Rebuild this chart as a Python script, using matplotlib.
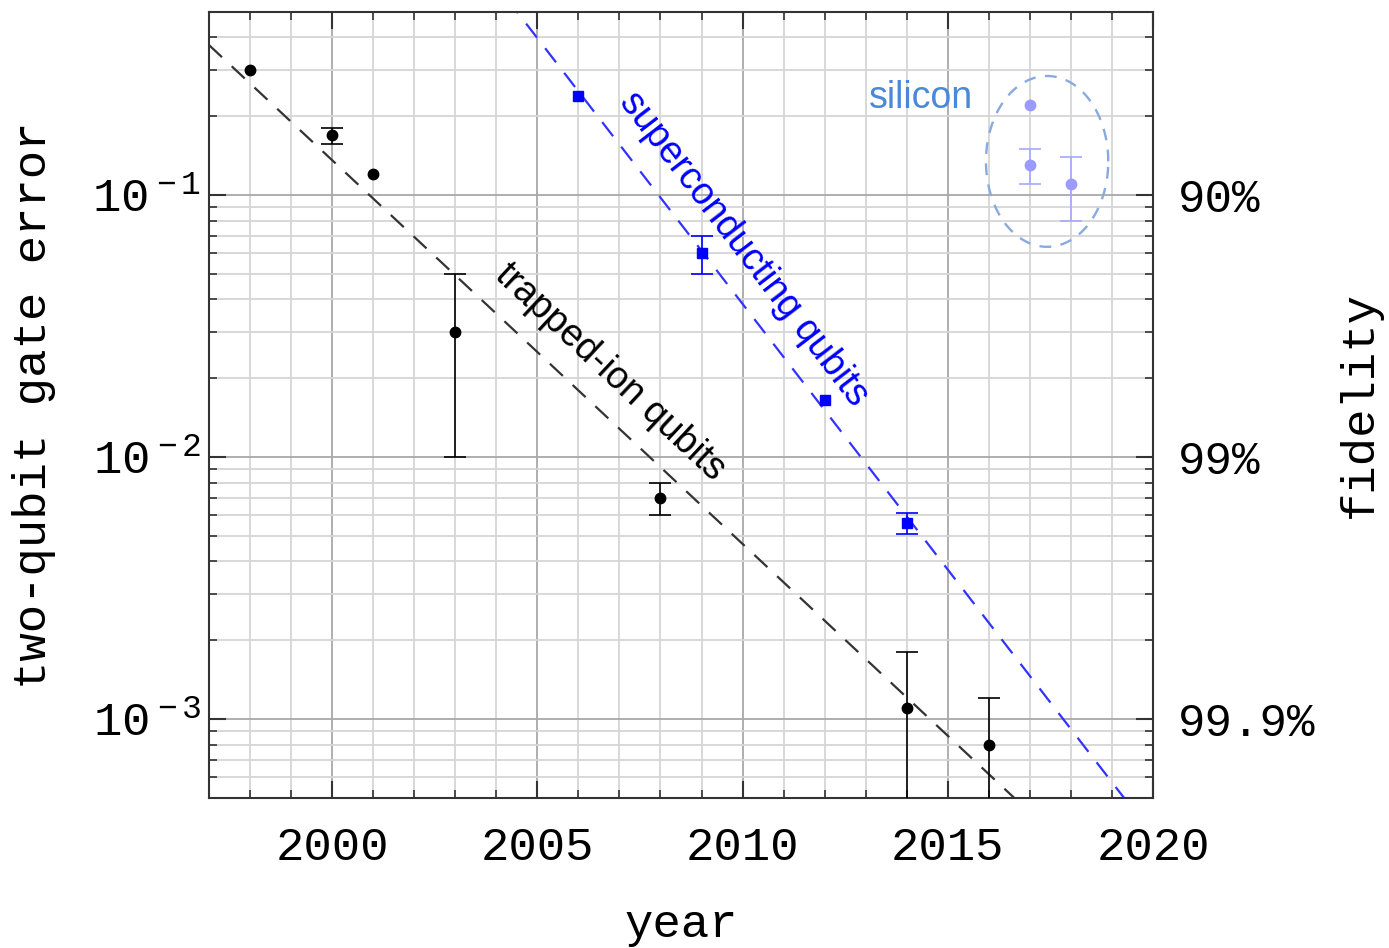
import numpy as np
import matplotlib
matplotlib.use("Agg")
import matplotlib.pyplot as plt
from matplotlib.ticker import LogLocator, FixedLocator, NullFormatter, FixedFormatter

# ---------------- data ----------------
ion_years = [1998, 2000, 2001, 2003, 2008, 2014, 2016]
ion_err = [0.30, 0.17, 0.12, 0.030, 0.0070, 0.0011, 0.0008]
ion_low = [0.30, 0.157, 0.12, 0.010, 0.0060, 0.0001, 0.0001]
ion_high = [0.30, 0.180, 0.12, 0.050, 0.0080, 0.0018, 0.0012]

sc_years = [2006, 2009, 2012, 2014]
sc_err = [0.24, 0.060, 0.0165, 0.0056]
sc_low = [0.24, 0.050, 0.0165, 0.0051]
sc_high = [0.24, 0.070, 0.0165, 0.0061]

si_years = [2017, 2017, 2018]
si_err = [0.22, 0.13, 0.11]
si_low = [0.22, 0.11, 0.08]
si_high = [0.22, 0.15, 0.14]

ion_trend_years = [1997, 2020]
ion_trend_err = [0.374, 1.6e-4]
sc_trend_years = [2004, 2020]
sc_trend_err = [0.634, 3.6e-4]

si_ellipse_center = (2017.42, 0.1345)   # year, error
si_ellipse_halfwidth = 1.49             # years
si_ellipse_halfheight = 0.326           # decades

x_ticks = [2000, 2005, 2010, 2015, 2020]
y_ticks = [1e-3, 1e-2, 1e-1]
y_tick_labels = [r"$\mathrm{10^{\,-3}}$", r"$\mathrm{10^{\,-2}}$", r"$\mathrm{10^{\,-1}}$"]
fid_tick_labels = ["99.9%", "99%", "90%"]

# ---------------- style ----------------
plt.rcParams['font.family'] = ['Liberation Mono', 'DejaVu Sans Mono']
plt.rcParams['mathtext.fontset'] = 'custom'
plt.rcParams['mathtext.rm'] = 'Liberation Mono'
plt.rcParams['mathtext.it'] = 'Liberation Mono'
plt.rcParams['mathtext.bf'] = 'Liberation Mono'

fig = plt.figure(figsize=(13.89, 9.48), dpi=100)
ax = fig.add_axes([209/1389, 1 - 798/948, (1153-209)/1389, (798-12)/948])

ax.set_yscale('log')
ax.set_xlim(1997, 2020)
ax.set_ylim(5e-4, 0.5)

# grid
ax.xaxis.set_major_locator(FixedLocator(x_ticks))
ax.xaxis.set_minor_locator(FixedLocator(np.arange(1997, 2021, 1)))
ax.yaxis.set_major_locator(FixedLocator(y_ticks))
ax.yaxis.set_minor_locator(LogLocator(base=10, subs=np.arange(2, 10), numticks=20))
ax.yaxis.set_major_formatter(FixedFormatter(y_tick_labels))
ax.yaxis.set_minor_formatter(NullFormatter())
ax.grid(which='minor', color='#d6d6d6', linewidth=1.3, zorder=0)
ax.grid(which='major', color='#a8a8a8', linewidth=1.3, zorder=0)
ax.set_axisbelow(True)

for s in ax.spines.values():
    s.set_color('#333333')
    s.set_linewidth(1.5)

ax.tick_params(which='both', direction='in', top=True, right=True, color='#333333')
ax.tick_params(which='major', length=12, width=1.5, labelsize=34, pad=20)
ax.tick_params(which='minor', length=6, width=1.2)
ax.tick_params(axis='y', which='major', pad=6)

# trend lines
ax.plot(ion_trend_years, ion_trend_err, color='#333333', linestyle=(0, (8, 6)), linewidth=1.6, zorder=2)
ax.plot(sc_trend_years, sc_trend_err, color='#3333ff', linestyle=(0, (8, 6)), linewidth=1.6, zorder=2)


def draw_series(years, vals, lows, highs, marker, color, ecolor, ms):
    years = np.array(years, dtype=float)
    vals = np.array(vals)
    lows = np.array(lows)
    highs = np.array(highs)
    has_bar = (highs - lows) > 0
    ax.errorbar(years[has_bar], vals[has_bar],
                yerr=np.array([vals[has_bar] - lows[has_bar], highs[has_bar] - vals[has_bar]]),
                fmt='none', ecolor=ecolor, elinewidth=1.2, capsize=8, capthick=1.2, zorder=3)
    ax.plot(years, vals, linestyle='none', marker=marker, color=color, mec=color, ms=ms, zorder=4)


draw_series(ion_years, ion_err, ion_low, ion_high, 'o', 'black', 'black', 7.5)
draw_series(sc_years, sc_err, sc_low, sc_high, 's', '#0000ff', '#0000ff', 7.5)
draw_series(si_years, si_err, si_low, si_high, 'o', '#9a9aff', '#a8a8ff', 7.5)

# ellipse around silicon
t = np.linspace(0, 2*np.pi, 300)
ex = si_ellipse_center[0] + si_ellipse_halfwidth*np.cos(t)
ey = 10**(np.log10(si_ellipse_center[1]) + si_ellipse_halfheight*np.sin(t))
ax.plot(ex, ey, color='#88aadd', linestyle=(0, (5, 4)), linewidth=1.7, zorder=2)

# annotations
ax.text(2006.77, 0.0211, 'trapped-ion qubits', rotation=-43, color='black',
        family='Liberation Sans', fontsize=27, ha='center', va='center',
        rotation_mode='anchor')
ax.text(2010.03, 0.0625, 'superconducting qubits', rotation=-52.5, color='#0000ff',
        family='Liberation Sans', fontsize=27, ha='center', va='center',
        rotation_mode='anchor')
ax.text(2014.35, 0.235, 'silicon', color='#4a88d8', family='Liberation Sans',
        fontsize=27, ha='center', va='center')

ax.set_xlabel('year', fontsize=34, labelpad=24)
ax.set_ylabel('two-qubit gate error', fontsize=34, labelpad=26)

# right axis: fidelity
ax2 = ax.twinx()
ax2.set_yscale('log')
ax2.set_ylim(ax.get_ylim())
ax2.yaxis.set_major_locator(FixedLocator(y_ticks))
ax2.yaxis.set_major_formatter(FixedFormatter(fid_tick_labels))
ax2.yaxis.set_minor_locator(LogLocator(base=10, subs=np.arange(2, 10), numticks=20))
ax2.yaxis.set_minor_formatter(NullFormatter())
ax2.tick_params(which='both', direction='in', color='#333333')
ax2.tick_params(which='major', length=12, width=1.5, labelsize=33, pad=18)
ax2.tick_params(which='minor', length=6, width=1.2)
for s in ax2.spines.values():
    s.set_visible(False)
ax2.set_ylabel('fidelity', fontsize=34, labelpad=16)

fig.savefig('out.png', dpi=100)
